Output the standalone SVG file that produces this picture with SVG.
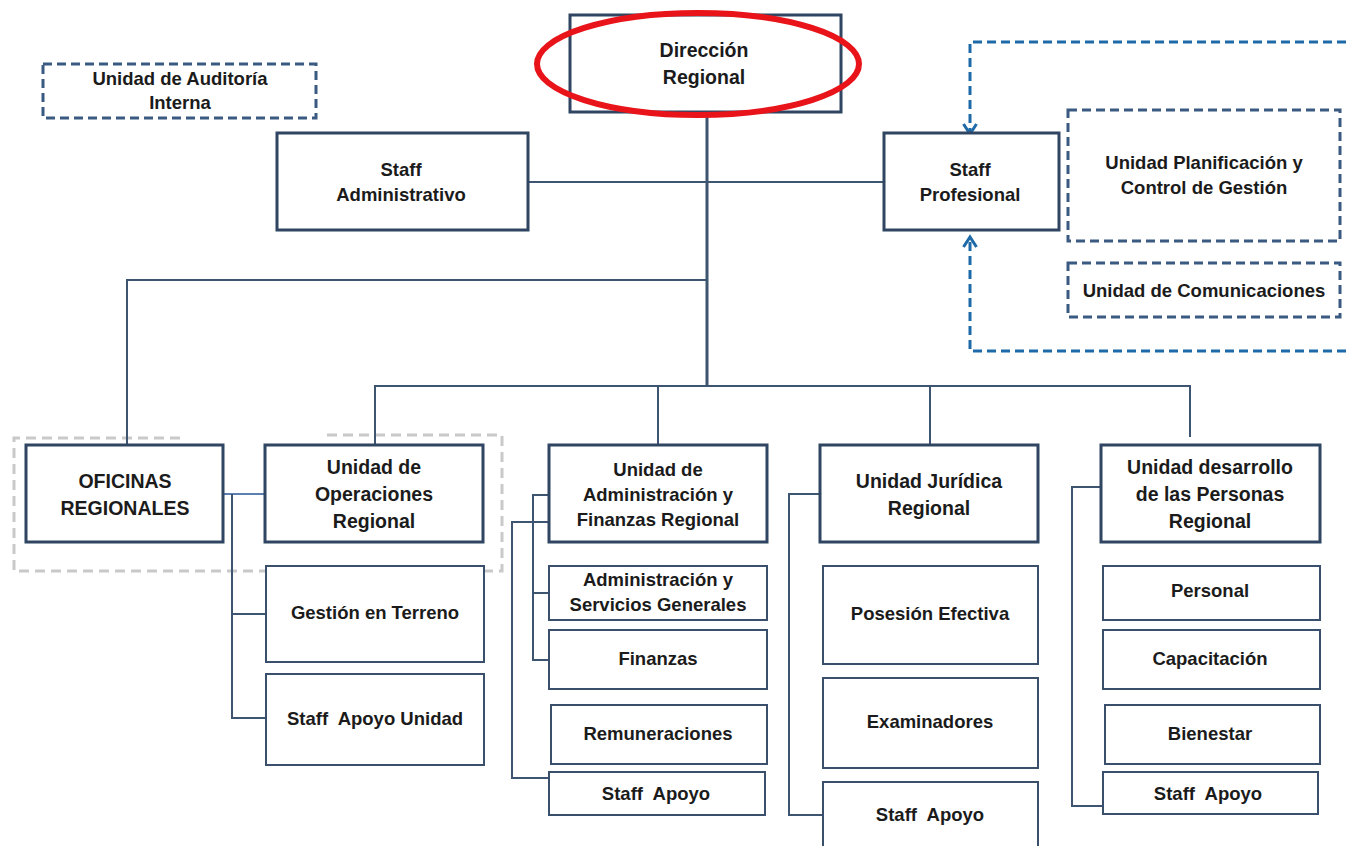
<svg xmlns="http://www.w3.org/2000/svg" width="1346" height="846" viewBox="0 0 1346 846">
<defs>
<style>
.b3{fill:#fff;stroke:#2f4562;stroke-width:3}
.b2{fill:#fff;stroke:#3a4f6b;stroke-width:2}
.dash{fill:none;stroke:#3b5a82;stroke-width:3;stroke-dasharray:9,5}
.t{font-family:"Liberation Sans",Arial,sans-serif;font-weight:bold;fill:#1b1b1b;text-anchor:middle}
.pre{white-space:pre}
.s17{font-size:18.5px}
.s19{font-size:19.5px}
.ln{fill:none;stroke:#3e5572;stroke-width:2}
.ln3{fill:none;stroke:#3e5572;stroke-width:3}
.blue{fill:none;stroke:#1e6aa8;stroke-width:3;stroke-dasharray:9,5}
.grey{fill:none;stroke:#c9c9c9;stroke-width:3;stroke-dasharray:10,6}
</style>
<marker id="chev" viewBox="0 0 16 16" refX="13" refY="8" markerWidth="16" markerHeight="16" markerUnits="userSpaceOnUse" orient="auto">
<path d="M3,1.5 L13,8 L3,14.5" fill="none" stroke="#1e6aa8" stroke-width="3"/>
</marker>
</defs>
<rect width="1346" height="846" fill="#fff"/>

<g id="grey-frame">
<path class="grey" d="M180,438 H14 V571 H502 V435 H322"/>
</g>

<g id="connectors">
<path class="ln3" d="M707,112 V386"/>
<path class="ln" d="M528,182 H884"/>
<path class="ln" d="M707,280 H127 V445"/>
<path class="ln" d="M375,445 V386 H1190 V437"/>
<path class="ln" d="M658,386 V445"/>
<path class="ln" d="M930,386 V445"/>
<path class="ln" d="M223,494 H265" style="stroke:#5a7fb0"/>
<path class="ln" d="M232,494 V718 H266 M232,614 H266"/>
<path class="ln" d="M549,495 H533 V660 H549 M533,593 H549"/>
<path class="ln" d="M549,522 H512 V778 H549"/>
<path class="ln" d="M820,494 H789 V815 H823"/>
<path class="ln" d="M1101,487 H1072 V806 H1103"/>
<path class="blue" d="M1346,42 H970 V134" marker-end="url(#chev)"/>
<path class="blue" d="M1346,351 H970 V237" marker-end="url(#chev)"/>
</g>

<g id="n-direccion">
<rect class="b3" x="570" y="15" width="271" height="97"/>
<text class="t s19" x="704" y="57">Dirección</text>
<text class="t s19" x="704" y="84">Regional</text>
<ellipse cx="698" cy="64" rx="161" ry="51" fill="none" stroke="#e8141a" stroke-width="6"/>
</g>

<g id="n-auditoria">
<rect class="dash" x="43" y="64" width="273" height="54"/>
<text class="t s17" x="180" y="85">Unidad de Auditoría</text>
<text class="t s17" x="180" y="109">Interna</text>
</g>

<g id="n-staff-adm">
<rect class="b3" x="277" y="133" width="251" height="97"/>
<text class="t s17" x="401" y="176">Staff</text>
<text class="t s17" x="401" y="201">Administrativo</text>
</g>

<g id="n-staff-prof">
<rect class="b3" x="884" y="133" width="175" height="97"/>
<text class="t s17" x="970" y="176">Staff</text>
<text class="t s17" x="970" y="201">Profesional</text>
</g>

<g id="n-planificacion">
<rect class="dash" x="1068" y="110" width="272" height="131"/>
<text class="t s17" x="1204" y="169">Unidad Planificación y</text>
<text class="t s17" x="1204" y="194">Control de Gestión</text>
</g>

<g id="n-comunicaciones">
<rect class="dash" x="1068" y="263" width="272" height="54"/>
<text class="t s17" x="1204" y="297">Unidad de Comunicaciones</text>
</g>

<g id="n-oficinas">
<rect class="b3" x="26" y="445" width="197" height="97"/>
<text class="t s19" x="125" y="488">OFICINAS</text>
<text class="t s19" x="125" y="515">REGIONALES</text>
</g>

<g id="n-operaciones">
<rect class="b3" x="265" y="445" width="218" height="97"/>
<text class="t s19" x="374" y="474">Unidad de</text>
<text class="t s19" x="374" y="501">Operaciones</text>
<text class="t s19" x="374" y="528">Regional</text>
</g>

<g id="n-gestion">
<rect class="b2" x="266" y="566" width="218" height="96"/>
<text class="t s17" x="375" y="619">Gestión en Terreno</text>
</g>

<g id="n-staff-apoyo-unidad">
<rect class="b2" x="266" y="674" width="218" height="91"/>
<text class="t s17 pre" x="375" y="725">Staff  Apoyo Unidad</text>
</g>

<g id="n-adm-finanzas">
<rect class="b3" x="549" y="445" width="218" height="97"/>
<text class="t s17" x="658" y="476">Unidad de</text>
<text class="t s17" x="658" y="501">Administración y</text>
<text class="t s17" x="658" y="526">Finanzas Regional</text>
</g>

<g id="n-adm-servicios">
<rect class="b2" x="549" y="566" width="218" height="54"/>
<text class="t s17" x="658" y="586">Administración y</text>
<text class="t s17" x="658" y="611">Servicios Generales</text>
</g>

<g id="n-finanzas">
<rect class="b2" x="549" y="630" width="218" height="59"/>
<text class="t s17" x="658" y="665">Finanzas</text>
</g>

<g id="n-remuneraciones">
<rect class="b2" x="551" y="705" width="216" height="59"/>
<text class="t s17" x="658" y="740">Remuneraciones</text>
</g>

<g id="n-staff-apoyo-adm">
<rect class="b2" x="549" y="772" width="216" height="43"/>
<text class="t s17 pre" x="656" y="800">Staff  Apoyo</text>
</g>

<g id="n-juridica">
<rect class="b3" x="820" y="445" width="218" height="97"/>
<text class="t s19" x="929" y="488">Unidad Jurídica</text>
<text class="t s19" x="929" y="515">Regional</text>
</g>

<g id="n-posesion">
<rect class="b2" x="823" y="566" width="215" height="98"/>
<text class="t s17" x="930" y="620">Posesión Efectiva</text>
</g>

<g id="n-examinadores">
<rect class="b2" x="823" y="678" width="215" height="90"/>
<text class="t s17" x="930" y="728">Examinadores</text>
</g>

<g id="n-staff-apoyo-jur">
<rect class="b2" x="823" y="782" width="215" height="70"/>
<text class="t s17 pre" x="930" y="821">Staff  Apoyo</text>
</g>

<g id="n-personas">
<rect class="b3" x="1101" y="445" width="219" height="97"/>
<text class="t s19" x="1210" y="474">Unidad desarrollo</text>
<text class="t s19" x="1210" y="501">de las Personas</text>
<text class="t s19" x="1210" y="528">Regional</text>
</g>

<g id="n-personal">
<rect class="b2" x="1103" y="566" width="217" height="54"/>
<text class="t s17" x="1210" y="597">Personal</text>
</g>

<g id="n-capacitacion">
<rect class="b2" x="1103" y="630" width="217" height="59"/>
<text class="t s17" x="1210" y="665">Capacitación</text>
</g>

<g id="n-bienestar">
<rect class="b2" x="1105" y="705" width="215" height="59"/>
<text class="t s17" x="1210" y="740">Bienestar</text>
</g>

<g id="n-staff-apoyo-per">
<rect class="b2" x="1103" y="772" width="215" height="42"/>
<text class="t s17 pre" x="1208" y="800">Staff  Apoyo</text>
</g>
</svg>
